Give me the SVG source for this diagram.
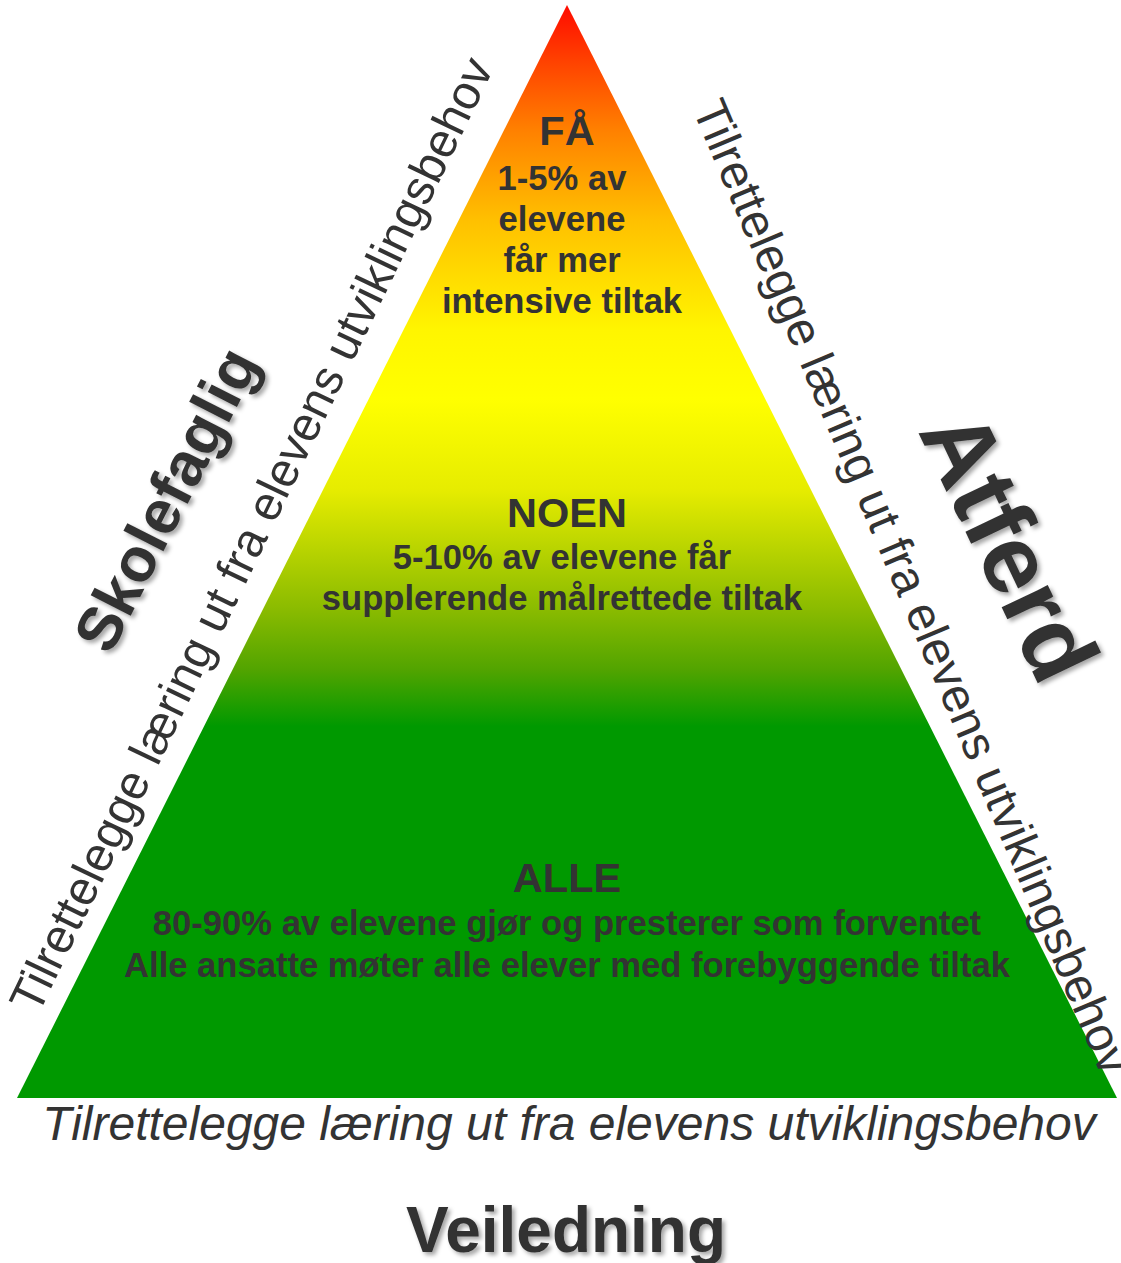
<svg xmlns="http://www.w3.org/2000/svg" width="1121" height="1263" viewBox="0 0 1121 1263">
  <defs>
    <linearGradient id="pyr" gradientUnits="userSpaceOnUse" x1="0" y1="5" x2="0" y2="1098">
      <stop offset="0" stop-color="#FF0A00"/>
      <stop offset="0.05" stop-color="#FF4000"/>
      <stop offset="0.114" stop-color="#FF8000"/>
      <stop offset="0.197" stop-color="#FFC000"/>
      <stop offset="0.297" stop-color="#FFF500"/>
      <stop offset="0.361" stop-color="#FFFF00"/>
      <stop offset="0.444" stop-color="#E6EC00"/>
      <stop offset="0.553" stop-color="#8ABB00"/>
      <stop offset="0.608" stop-color="#52A400"/>
      <stop offset="0.66" stop-color="#009900"/>
      <stop offset="1" stop-color="#009900"/>
    </linearGradient>
    <filter id="shadow" x="-20%" y="-20%" width="140%" height="140%">
      <feGaussianBlur in="SourceAlpha" stdDeviation="2"/>
      <feOffset dx="3" dy="3" result="b"/>
      <feFlood flood-color="#000" flood-opacity="0.35"/>
      <feComposite in2="b" operator="in"/>
      <feMerge><feMergeNode/><feMergeNode in="SourceGraphic"/></feMerge>
    </filter>
  </defs>
  <style>
    .b { font-family: "Liberation Sans", Arial, sans-serif; font-weight: bold; fill: #333333; text-anchor: middle; }
    .h { font-size: 41.5px; }
    .t { font-size: 34.6px; }
    .big { font-family: "Liberation Sans", Arial, sans-serif; font-weight: bold; fill: #333333; text-anchor: middle; }
    .side { font-family: "Liberation Sans", Arial, sans-serif; font-size: 48px; fill: #333333; text-anchor: middle; }
  </style>

  <g id="pyramid">
    <polygon points="567,5 1117,1098 17,1098" fill="url(#pyr)"/>
  </g>

  <g id="tier-fa">
    <text class="b h" x="567" y="145">FÅ</text>
    <text class="b t" x="562" y="190">1-5% av</text>
    <text class="b t" x="562" y="231">elevene</text>
    <text class="b t" x="562" y="272">får mer</text>
    <text class="b t" x="562" y="313">intensive tiltak</text>
  </g>

  <g id="tier-noen">
    <text class="b h" x="567" y="527">NOEN</text>
    <text class="b t" x="562" y="569">5-10% av elevene får</text>
    <text class="b t" x="562" y="610">supplerende målrettede tiltak</text>
  </g>

  <g id="tier-alle">
    <text class="b h" x="567" y="892">ALLE</text>
    <text class="b t" x="567" y="935">80-90% av elevene gjør og presterer som forventet</text>
    <text class="b t" x="567" y="977">Alle ansatte møter alle elever med forebyggende tiltak</text>
  </g>

  <g id="left-side">
    <text class="side" transform="translate(266,542) rotate(-64.3)">Tilrettelegge læring ut fra elevens utviklingsbehov</text>
    <g filter="url(#shadow)">
      <text class="big" font-size="62" transform="translate(185,509) rotate(-63)">Skolefaglig</text>
    </g>
  </g>

  <g id="right-side">
    <text class="side" transform="translate(897,593) rotate(67.07)">Tilrettelegge læring ut fra elevens utviklingsbehov</text>
    <g filter="url(#shadow)">
      <text class="big" font-size="97" transform="translate(979,560) rotate(64.5)">Atferd</text>
    </g>
  </g>

  <g id="bottom">
    <text class="side" font-style="italic" x="569" y="1140">Tilrettelegge læring ut fra elevens utviklingsbehov</text>
    <g filter="url(#shadow)">
      <text class="big" font-size="64" x="566" y="1252">Veiledning</text>
    </g>
  </g>
</svg>
